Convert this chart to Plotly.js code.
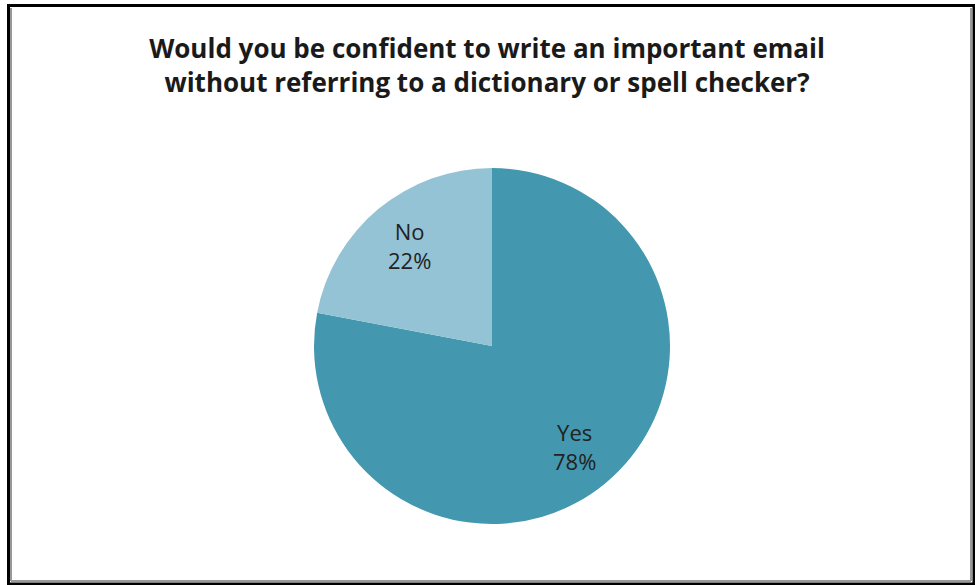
<!DOCTYPE html>
<html>
<head>
<meta charset="utf-8">
<script src="https://cdn.plot.ly/plotly-3.0.1.min.js"></script>
<style>html,body{margin:0;padding:0;background:#fff;}#chart{width:975px;height:585px;}</style>
</head>
<body>
<div id="chart"></div>
<script>
const categories = ["Yes", "No"];
const values = [78, 22];
const colors = ["#4398AF", "#93C3D5"];
const titleText = "Would you be confident to write an important email<br>without referring to a dictionary or spell checker?";

const W = 975, H = 585;
const dom = {x: [314 / W, 670 / W], y: [(H - 524) / H, (H - 168) / H]};

const trace = {
  type: "pie",
  labels: categories,
  values: values,
  sort: false,
  direction: "clockwise",
  rotation: 0,
  marker: {colors: colors, line: {width: 0}},
  textinfo: "none",
  hoverinfo: "none",
  showlegend: false,
  domain: dom
};

// Slice labels placed along each slice's mid-angle, derived from the values
const total = values.reduce((a, b) => a + b, 0);
const cx = (dom.x[0] + dom.x[1]) / 2 * W;
const cy = (1 - (dom.y[0] + dom.y[1]) / 2) * H;
const R = (dom.x[1] - dom.x[0]) * W / 2;
const labelR = 0.73 * R;
let cum = 0;
const annotations = categories.map((c, i) => {
  const mid = (cum + values[i] / 2) / total * 2 * Math.PI;
  cum += values[i];
  const px = cx + labelR * Math.sin(mid);
  const py = cy - labelR * Math.cos(mid);
  return {
    xref: "paper", yref: "paper",
    x: px / W, y: 1 - py / H,
    xanchor: "center", yanchor: "middle",
    showarrow: false,
    text: c + "<br>" + Math.round(values[i] / total * 100) + "%",
    font: {family: "Open Sans, sans-serif", size: 22, color: "#222222"}
  };
});

const layout = {
  width: W, height: H,
  margin: {l: 0, r: 0, t: 0, b: 0},
  paper_bgcolor: "#ffffff",
  title: {
    text: titleText,
    font: {family: "Open Sans, sans-serif", size: 26, color: "#1a1a1a", weight: "bold"},
    x: 487 / W, xanchor: "center",
    y: 1 - 58 / H, yanchor: "top"
  },
  annotations: annotations,
  shapes: [
    {type: "rect", xref: "paper", yref: "paper", x0: 8.5 / W, x1: 974 / W, y0: 1 - 584 / H, y1: 1 - 5.5 / H,
     line: {color: "#000000", width: 3}},
    {type: "line", xref: "paper", yref: "paper", x0: 11 / W, x1: 11 / W, y0: 1 - 581 / H, y1: 1 - 8 / H,
     line: {color: "#999999", width: 2}},
    {type: "line", xref: "paper", yref: "paper", x0: 971 / W, x1: 971 / W, y0: 1 - 581 / H, y1: 1 - 8 / H,
     line: {color: "#999999", width: 2}},
    {type: "line", xref: "paper", yref: "paper", x0: 11 / W, x1: 971 / W, y0: 1 - 581 / H, y1: 1 - 581 / H,
     line: {color: "#999999", width: 2}}
  ]
};

Plotly.newPlot("chart", [trace], layout, {displayModeBar: false, staticPlot: true});
</script>
</body>
</html>
